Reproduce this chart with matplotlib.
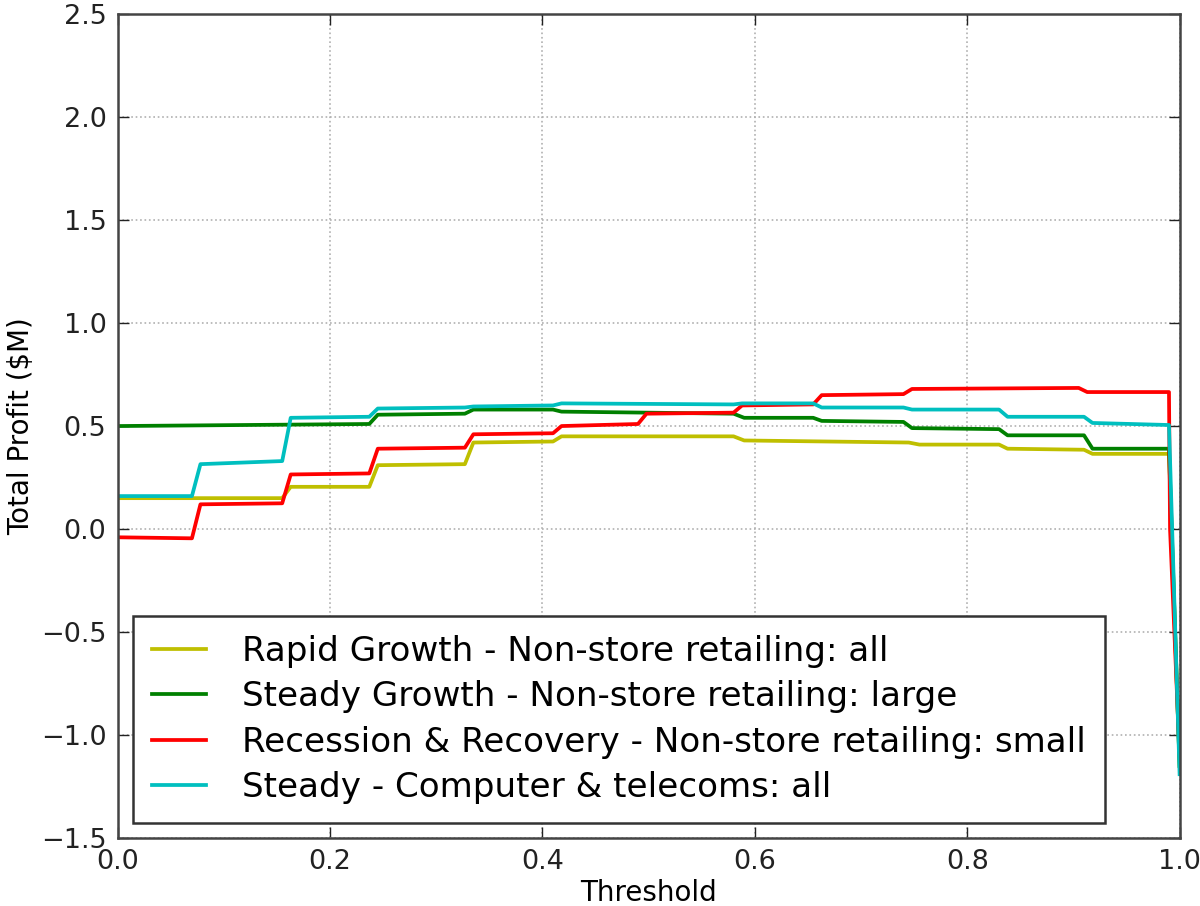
import numpy as np
import matplotlib
matplotlib.use('Agg')
import matplotlib.pyplot as plt

# data (threshold sweep)
rapid_x = [0.0, 0.155, 0.163, 0.237, 0.245, 0.327, 0.335, 0.41, 0.418, 0.58, 0.59,
           0.745, 0.755, 0.83, 0.838, 0.91, 0.918, 0.99, 1.0]
rapid_y = [0.15, 0.15, 0.205, 0.205, 0.31, 0.315, 0.42, 0.425, 0.45, 0.45, 0.43,
           0.42, 0.41, 0.41, 0.39, 0.385, 0.365, 0.365, -1.15]

steady_growth_x = [0.0, 0.237, 0.245, 0.327, 0.335, 0.41, 0.418, 0.58, 0.59, 0.655, 0.663,
                   0.74, 0.748, 0.83, 0.838, 0.91, 0.918, 0.99, 1.0]
steady_growth_y = [0.5, 0.51, 0.555, 0.56, 0.58, 0.58, 0.57, 0.56, 0.54, 0.54, 0.525,
                   0.52, 0.49, 0.485, 0.455, 0.455, 0.39, 0.39, -1.15]

recession_x = [0.0, 0.07, 0.078, 0.155, 0.163, 0.237, 0.245, 0.327, 0.335, 0.41, 0.418,
               0.49, 0.498, 0.58, 0.588, 0.655, 0.663, 0.74, 0.748, 0.905, 0.913, 0.99, 0.991, 1.0]
recession_y = [-0.04, -0.045, 0.12, 0.125, 0.265, 0.27, 0.39, 0.395, 0.46, 0.465, 0.5,
               0.51, 0.56, 0.565, 0.6, 0.605, 0.65, 0.655, 0.68, 0.685, 0.665, 0.665, 0.0, -1.1]

steady_x = [0.0, 0.07, 0.078, 0.155, 0.163, 0.237, 0.245, 0.327, 0.335, 0.41, 0.418,
            0.58, 0.588, 0.655, 0.663, 0.74, 0.748, 0.83, 0.838, 0.91, 0.918, 0.99, 1.0]
steady_y = [0.16, 0.16, 0.315, 0.33, 0.54, 0.545, 0.585, 0.59, 0.595, 0.6, 0.61,
            0.605, 0.61, 0.61, 0.59, 0.59, 0.58, 0.58, 0.545, 0.545, 0.515, 0.505, -1.19]

labels = ['Rapid Growth - Non-store retailing: all',
          'Steady Growth - Non-store retailing: large',
          'Recession & Recovery - Non-store retailing: small',
          'Steady - Computer & telecoms: all']

x_ticks = [0.0, 0.2, 0.4, 0.6, 0.8, 1.0]
y_ticks = [-1.5, -1.0, -0.5, 0.0, 0.5, 1.0, 1.5, 2.0, 2.5]

# figure
fig = plt.figure(figsize=(12, 9.06), dpi=100)
ax = fig.add_axes([0.098, 0.075, 0.885, 0.9095])

lw = 2.7
ax.plot(rapid_x, rapid_y, color=(0.75, 0.75, 0), lw=lw, label=labels[0])
ax.plot(steady_growth_x, steady_growth_y, color=(0, 0.5, 0), lw=lw, label=labels[1])
ax.plot(recession_x, recession_y, color=(1, 0, 0), lw=lw, label=labels[2])
ax.plot(steady_x, steady_y, color=(0, 0.75, 0.75), lw=lw, label=labels[3])

ax.set_xlim(0, 1)
ax.set_ylim(-1.5, 2.5)
ax.set_xticks(x_ticks)
ax.set_yticks(y_ticks)
ax.set_xticklabels(['%.1f' % v for v in x_ticks])
ax.set_yticklabels([('%.1f' % v).replace('-', '\u2212') for v in y_ticks])
ax.tick_params(direction='in', top=True, right=True, length=8, width=1,
               labelsize=19.5, pad=8, colors='#222222')
ax.grid(True, linestyle=':', color='#b0b0b0', linewidth=1.2)

for s in ax.spines.values():
    s.set_linewidth(1.8)
    s.set_color('#444444')

ax.set_xlabel('Threshold', fontsize=20, labelpad=3)
ax.set_ylabel('Total Profit ($M)', fontsize=20, labelpad=4)

leg = ax.legend(loc='lower left', fontsize=24.6, fancybox=False, framealpha=1,
                edgecolor='#333333', handlelength=1.6, handletextpad=1.05,
                borderpad=0.55, labelspacing=0.36, borderaxespad=0.45)
leg.get_frame().set_linewidth(1.8)

plt.savefig('out.png', dpi=100)
